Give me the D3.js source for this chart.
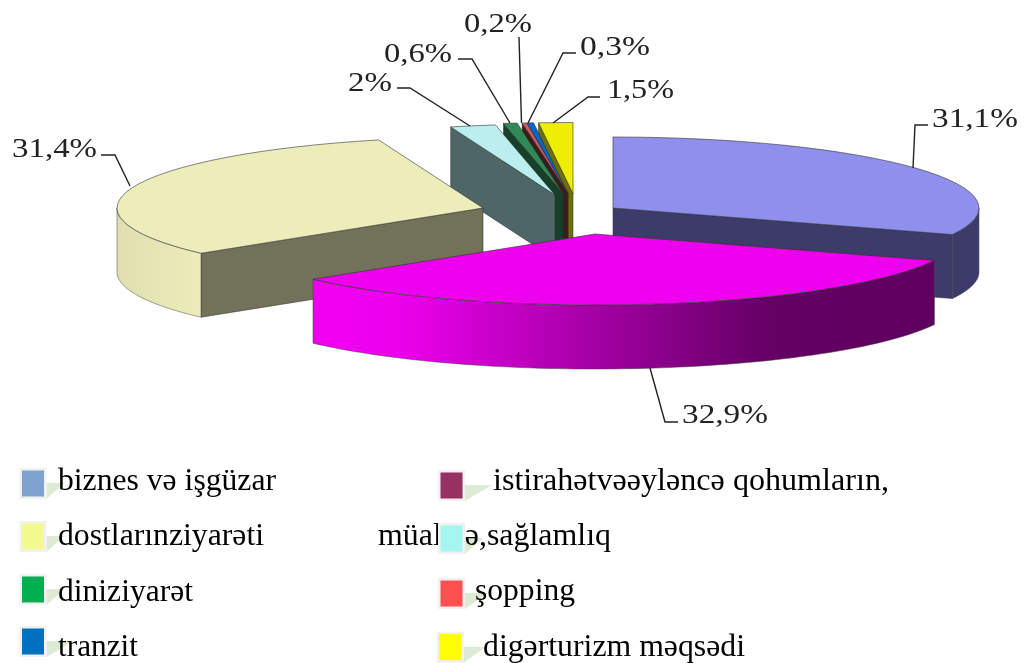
<!DOCTYPE html>
<html>
<head>
<meta charset="utf-8">
<script src="https://d3js.org/d3.v7.min.js"></script>
<style>
html,body{margin:0;padding:0;background:#fff;}
svg{display:block;}
text{font-family:"Liberation Serif",serif;}
</style>
</head>
<body>
<svg id="chart" width="1024" height="663"></svg>
<script>
// --- data ---
const categories = ["biznes və işgüzar","istirahətvəəyləncə qohumların,","dostlarınziyarəti","müalicə,sağlamlıq","diniziyarət","şopping","tranzit","digərturizm məqsədi"];
const values = [31.1,32.9,31.4,2,0.6,0.2,0.3,1.5];
const topColors = ["#8F8FEE","#EE00EE","#EDEDBB","#BBEEEE","#2E8B57","#CD5C5C","#0066CC","#EEEE00"];
const wallColors = ["#3E3A6B","url(#magentaWall)","#72715A","#506666","#173F2A","#3A1F1F","#12233A","#6F6F00"];
const outerWallColors = ["#3E3A6B","url(#magentaWall)","url(#oliveWall)","#506666","#173F2A","#3A1F1F","#12233A","#6F6F00"];
const legendColors = ["#7FA3D0","#953163","#F3FB8E","#A5F5F0","#00B050","#FF5050","#0070C0","#FFFF00"];

// --- layout (positions only) ---
const rx = 366, ry = 71, depth = 64;
const apex = [[613,208],[595,234],[483,208],[555,195],[563,193.5],[568,193.5],[568,193.5],[573,193.5]];
const drawOrder = [7,6,5,4,3,0,2,1];
const labelBoxes = [
  {x:932,w:86,y:127,line:[[928,125],[915,125],[913,168]]},
  {x:682,w:86,y:423,line:[[650,368],[665,422],[678,422]]},
  {x:12,w:85,y:157,line:[[101,155],[115,155],[130,186]]},
  {x:348,w:44,y:91,line:[[397,88],[410,88],[470,126]]},
  {x:384,w:68,y:62,line:[[458,59],[472,59],[510,123]]},
  {x:464,w:68,y:32,line:[[519,37],[521.5,123]]},
  {x:580,w:70,y:55,line:[[576,53],[563,53],[528,123]]},
  {x:607,w:67,y:98,line:[[600,97],[588,97],[553,123]]}
];
const legendLayout = [
  {sx:19.5,sy:468,tx:58,ty:490,tw:218,sh:18},
  {sx:438,sy:470,tx:493,ty:490,tw:396,sh:27},
  {sx:19.5,sy:521,tx:58,ty:545,tw:206,sh:18},
  {sx:438,sy:523,tx:378,ty:545,tw:233,sh:18},
  {sx:19.5,sy:574,tx:58,ty:601,tw:135,sh:18},
  {sx:438,sy:578,tx:475,ty:600,tw:100,sh:23},
  {sx:19.5,sy:626,tx:58,ty:656,tw:80,sh:27},
  {sx:436.7,sy:631.7,tx:483,ty:655.5,tw:262,sh:22}
];

const svg = d3.select("#chart");
const defs = svg.append("defs");
defs.append("filter").attr("id","soft").attr("x","-5%").attr("y","-5%").attr("width","110%").attr("height","110%")
  .append("feGaussianBlur").attr("stdDeviation",0.55);
defs.append("filter").attr("id","softText").attr("x","-5%").attr("y","-5%").attr("width","110%").attr("height","110%")
  .append("feGaussianBlur").attr("stdDeviation",0.3);
const mg = defs.append("linearGradient").attr("id","magentaWall").attr("gradientUnits","userSpaceOnUse")
  .attr("x1",313).attr("x2",935).attr("y1",0).attr("y2",0);
[[0,"#F000F0"],[0.14,"#EC00EC"],[0.72,"#660066"],[1,"#5E005E"]].forEach(s=>mg.append("stop").attr("offset",s[0]).attr("stop-color",s[1]));
const og = defs.append("linearGradient").attr("id","oliveWall").attr("gradientUnits","userSpaceOnUse")
  .attr("x1",115).attr("x2",201).attr("y1",0).attr("y2",0);
[[0,"#DEDEB0"],[1,"#EDEDBB"]].forEach(s=>og.append("stop").attr("offset",s[0]).attr("stop-color",s[1]));

// --- pie geometry from the values ---
const pie = d3.pie().sort(null).value(d=>d).startAngle(0).endAngle(2*Math.PI);
const arcs = pie(values);
const arcGen = d3.arc().innerRadius(0).outerRadius(rx);
const line = d3.line();
const rimPoint = (c,a)=>[c[0]+rx*Math.sin(a), c[1]-ry*Math.cos(a)];

const chart = svg.append("g").attr("filter","url(#soft)");

function radialFace(g,c,a,fill){
  const e = rimPoint(c,a);
  g.append("path")
    .attr("d",line([c,e,[e[0],e[1]+depth],[c[0],c[1]+depth]])+"Z")
    .attr("fill",fill).attr("stroke","#2a2a2a").attr("stroke-width",0.5).attr("stroke-linejoin","round");
}
function outerWall(g,c,a0,a1,fill){
  const from = Math.max(a0,Math.PI/2), to = Math.min(a1,Math.PI*1.5);
  if(to<=from) return;
  const s = d3.scaleLinear().domain([0,80]).range([from,to]);
  const upper = d3.range(81).map(i=>rimPoint(c,s(i)));
  const lower = upper.map(p=>[p[0],p[1]+depth]).reverse();
  g.append("path").attr("d",line(upper.concat(lower))+"Z")
    .attr("fill",fill).attr("stroke","#444").attr("stroke-width",0.5);
}

drawOrder.forEach(i=>{
  const d = arcs[i], c = apex[i];
  const g = chart.append("g").attr("class","slice");
  if(Math.sin(d.startAngle) < -1e-6) radialFace(g,c,d.startAngle,wallColors[i]);
  if(Math.sin(d.endAngle) > 1e-6) radialFace(g,c,d.endAngle,wallColors[i]);
  outerWall(g,c,d.startAngle,d.endAngle,outerWallColors[i]);
  g.append("path")
    .attr("d",arcGen(d))
    .attr("transform",`translate(${c[0]},${c[1]}) scale(1,${ry/rx})`)
    .attr("fill",topColors[i])
    .attr("stroke","#333").attr("stroke-width",0.6).attr("vector-effect","non-scaling-stroke")
    .attr("stroke-linejoin","round");
});

// --- leader lines + value labels ---
const labels = svg.append("g").attr("filter","url(#soft)");
values.forEach((v,i)=>{
  const b = labelBoxes[i];
  labels.append("path").attr("d",line(b.line)).attr("fill","none")
    .attr("stroke","#222").attr("stroke-width",1.4);
  labels.append("text").attr("x",b.x).attr("y",b.y)
    .attr("font-size",27).attr("fill","#222")
    .attr("textLength",b.w).attr("lengthAdjust","spacingAndGlyphs")
    .text(String(v).replace(".",",")+"%");
});

// --- legend ---
const sw = 27, sh = 31, pad = 3;
const legend = svg.append("g");
const legendText = legend.append("g").attr("filter","url(#softText)");
categories.forEach((name,i)=>{
  const l = legendLayout[i];
  legend.insert("path",":first-child")
    .attr("d",line([[l.sx+sw,l.sy+15],[l.sx+sw+l.sh,l.sy+15],[l.sx+sw,l.sy+sh]])+"Z")
    .attr("fill","#DDEBD5");
  legendText.append("text").attr("x",l.tx).attr("y",l.ty)
    .attr("font-size",32).attr("fill","#000")
    .attr("textLength",l.tw).attr("lengthAdjust","spacingAndGlyphs")
    .text(name);
});
categories.forEach((name,i)=>{
  const l = legendLayout[i];
  legend.append("rect").attr("x",l.sx).attr("y",l.sy).attr("width",sw).attr("height",sh).attr("fill","#F0F1F0");
  legend.append("rect").attr("x",l.sx+pad-0.5).attr("y",l.sy+pad-0.5).attr("width",sw-2*pad+1).attr("height",sh-2*pad+1).attr("fill",legendColors[i]);
});
</script>
</body>
</html>
